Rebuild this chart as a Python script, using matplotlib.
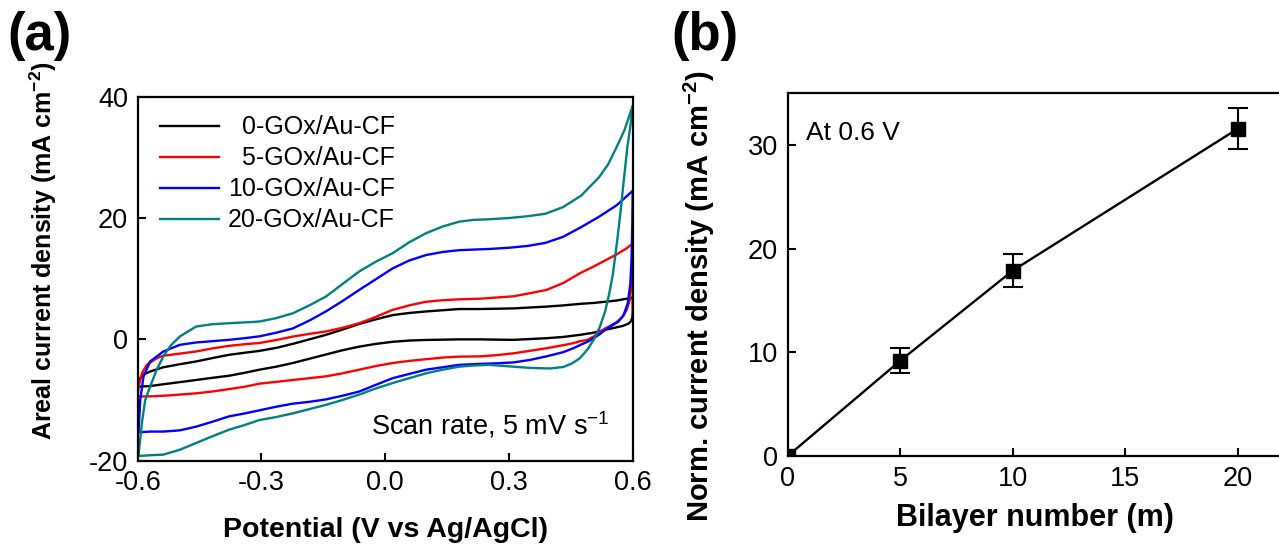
import numpy as np
import matplotlib.pyplot as plt

plt.rcParams['font.family'] = ['Liberation Sans', 'DejaVu Sans']
plt.rcParams['mathtext.default'] = 'regular'
plt.rcParams['axes.unicode_minus'] = False

# --- (a) cyclic voltammograms, forward (upper) and reverse (lower) sweeps ---
labels = ['  0-GOx/Au-CF', '  5-GOx/Au-CF', '10-GOx/Au-CF', '20-GOx/Au-CF']
colors = ['black', '#ff0000', '#0000ff', '#008080']

v_fwd_0 = [-0.600, -0.598, -0.593, -0.586, -0.570, -0.538, -0.498, -0.459, -0.420, -0.379, -0.340,
           -0.305, -0.264, -0.224, -0.184, -0.144, -0.104, -0.063, -0.023, 0.018, 0.058, 0.099,
           0.139, 0.179, 0.230, 0.270, 0.311, 0.350, 0.391, 0.432, 0.472, 0.505, 0.533, 0.561,
           0.585, 0.600]
j_fwd_0 = [-7.8, -7.2, -6.3, -5.8, -5.3, -4.6, -4.1, -3.65, -3.1, -2.55, -2.2,
           -1.9, -1.4, -0.74, 0.0, 0.74, 1.6, 2.55, 3.3, 4.0, 4.35, 4.6,
           4.8, 5.0, 5.0, 5.05, 5.1, 5.25, 5.4, 5.6, 5.85, 6.0, 6.2, 6.4,
           6.7, 6.9]
v_rev_0 = [0.600, 0.600, 0.599, 0.596, 0.590, 0.575, 0.555, 0.533, 0.505, 0.472, 0.432, 0.391,
           0.350, 0.311, 0.270, 0.230, 0.179, 0.139, 0.099, 0.058, 0.018, -0.023, -0.063, -0.104,
           -0.144, -0.184, -0.224, -0.264, -0.305, -0.340, -0.379, -0.420, -0.459, -0.498, -0.538,
           -0.570, -0.600]
j_rev_0 = [6.9, 4.5, 3.6, 3.0, 2.6, 2.2, 1.9, 1.56, 1.1, 0.74, 0.4, 0.19,
           0.05, -0.08, -0.05, 0.0, 0.0, -0.05, -0.1, -0.2, -0.4, -0.75, -1.2, -1.8,
           -2.5, -3.2, -3.9, -4.5, -5.0, -5.5, -6.0, -6.35, -6.7, -7.05, -7.4,
           -7.7, -7.8]

v_fwd_5 = [-0.600, -0.598, -0.590, -0.578, -0.554, -0.538, -0.498, -0.459, -0.420, -0.379, -0.340,
           -0.305, -0.264, -0.224, -0.184, -0.144, -0.104, -0.063, -0.023, 0.018, 0.058, 0.099,
           0.139, 0.179, 0.230, 0.270, 0.311, 0.350, 0.391, 0.432, 0.472, 0.505, 0.533, 0.561,
           0.585, 0.600]
j_fwd_5 = [-9.4, -7.8, -5.6, -4.2, -3.1, -2.7, -2.35, -2.0, -1.5, -1.07, -0.8,
           -0.6, -0.1, 0.46, 0.9, 1.3, 1.9, 2.66, 3.7, 4.86, 5.6, 6.2,
           6.45, 6.6, 6.7, 6.9, 7.1, 7.6, 8.15, 9.3, 10.9, 12.0, 13.0, 14.0,
           15.0, 15.8]
v_rev_5 = [0.600, 0.599, 0.597, 0.593, 0.585, 0.575, 0.560, 0.545, 0.533, 0.520, 0.505, 0.490,
           0.472, 0.456, 0.432, 0.391, 0.350, 0.311, 0.270, 0.230, 0.179, 0.139, 0.099, 0.058,
           0.018, -0.023, -0.063, -0.104, -0.144, -0.184, -0.224, -0.264, -0.305, -0.340, -0.379,
           -0.420, -0.459, -0.498, -0.538, -0.570, -0.600]
j_rev_5 = [15.8, 12.0, 9.0, 6.5, 4.8, 3.7, 2.8, 2.2, 1.8, 1.2, 0.47, -0.1,
           -0.3, -0.63, -0.95, -1.46, -1.9, -2.3, -2.6, -2.8, -2.85, -3.0, -3.27, -3.55,
           -3.9, -4.4, -5.0, -5.6, -6.1, -6.4, -6.7, -7.0, -7.3, -7.8, -8.2,
           -8.6, -8.9, -9.1, -9.3, -9.4, -9.4]

v_fwd_10 = [-0.600, -0.598, -0.594, -0.586, -0.570, -0.538, -0.498, -0.459, -0.420, -0.379, -0.340,
            -0.305, -0.264, -0.224, -0.184, -0.144, -0.104, -0.063, -0.023, 0.018, 0.058, 0.099,
            0.139, 0.179, 0.215, 0.252, 0.300, 0.345, 0.388, 0.431, 0.475, 0.518, 0.561, 0.600]
j_fwd_10 = [-15.3, -15.0, -10.0, -6.1, -3.65, -2.0, -0.9, -0.52, -0.3, -0.08, 0.2,
            0.5, 1.1, 1.8, 3.1, 4.6, 6.3, 8.15, 9.9, 11.7, 13.0, 13.9,
            14.4, 14.7, 14.8, 14.9, 15.1, 15.4, 15.9, 16.9, 18.5, 20.2, 22.1, 24.5]
v_rev_10 = [0.600, 0.599, 0.597, 0.594, 0.588, 0.578, 0.565, 0.550, 0.533, 0.520, 0.505, 0.490,
            0.472, 0.456, 0.432, 0.391, 0.350, 0.311, 0.270, 0.230, 0.179, 0.139, 0.099, 0.058,
            0.018, -0.023, -0.063, -0.104, -0.144, -0.184, -0.224, -0.264, -0.305, -0.340, -0.379,
            -0.420, -0.459, -0.498, -0.538, -0.570, -0.590, -0.600]
j_rev_10 = [24.5, 19.0, 13.0, 9.0, 6.0, 4.0, 2.9, 2.3, 1.56, 0.85, 0.19, -0.4,
            -0.95, -1.46, -2.1, -2.8, -3.4, -3.8, -3.95, -4.04, -4.2, -4.6, -5.0, -5.7,
            -6.4, -7.5, -8.6, -9.3, -9.9, -10.3, -10.6, -11.1, -11.7, -12.2, -12.7,
            -13.6, -14.4, -15.0, -15.2, -15.2, -15.3, -15.3]

v_fwd_20 = [-0.600, -0.598, -0.590, -0.582, -0.570, -0.554, -0.538, -0.520, -0.498, -0.459, -0.420,
            -0.379, -0.340, -0.305, -0.264, -0.224, -0.184, -0.144, -0.104, -0.063, -0.023, 0.018,
            0.058, 0.099, 0.139, 0.179, 0.215, 0.252, 0.300, 0.345, 0.388, 0.431, 0.475, 0.518,
            0.540, 0.561, 0.580, 0.596, 0.600]
j_fwd_20 = [-19.2, -19.0, -13.8, -10.0, -7.8, -5.0, -2.8, -1.0, 0.47, 2.1, 2.5,
            2.66, 2.8, 2.94, 3.5, 4.3, 5.6, 7.05, 9.1, 11.2, 12.8, 14.2,
            16.0, 17.5, 18.6, 19.4, 19.7, 19.8, 20.0, 20.3, 20.7, 21.8, 23.7, 26.7,
            28.8, 31.7, 34.5, 37.7, 38.5]
v_rev_20 = [0.600, 0.595, 0.587, 0.578, 0.570, 0.560, 0.552, 0.543, 0.533, 0.520, 0.505, 0.490,
            0.472, 0.452, 0.432, 0.400, 0.350, 0.300, 0.252, 0.215, 0.179, 0.139, 0.099, 0.058,
            0.018, -0.023, -0.063, -0.104, -0.144, -0.184, -0.224, -0.264, -0.305, -0.340, -0.379,
            -0.420, -0.459, -0.498, -0.538, -0.570, -0.590, -0.600]
j_rev_20 = [38.5, 35.5, 31.7, 26.0, 20.7, 15.0, 10.8, 7.5, 4.6, 2.0, -0.1, -1.7,
            -3.1, -4.0, -4.55, -4.8, -4.7, -4.45, -4.2, -4.3, -4.5, -5.0, -5.6, -6.4,
            -7.2, -8.1, -9.1, -10.0, -10.8, -11.5, -12.2, -12.8, -13.3, -14.1, -14.9,
            -16.0, -17.1, -18.2, -19.0, -19.1, -19.2, -19.2]

cv_fwd = [(v_fwd_0, j_fwd_0), (v_fwd_5, j_fwd_5), (v_fwd_10, j_fwd_10), (v_fwd_20, j_fwd_20)]
cv_rev = [(v_rev_0, j_rev_0), (v_rev_5, j_rev_5), (v_rev_10, j_rev_10), (v_rev_20, j_rev_20)]

# --- (b) current density at 0.6 V vs bilayer number ---
bilayers = [0, 5, 10, 20]
norm_current = [0.0, 9.2, 17.9, 31.6]
norm_err = [0.0, 1.2, 1.6, 2.0]

fig = plt.figure(figsize=(12.79, 5.47), dpi=100)
ax1 = fig.add_axes([0.1077, 0.1578, 0.387, 0.6654])
ax2 = fig.add_axes([0.6159, 0.1664, 0.3873, 0.663])

for (vf, jf), (vr, jr), c, lab in zip(cv_fwd, cv_rev, colors, labels):
    v = list(vf) + list(vr)
    j = list(jf) + list(jr)
    ax1.plot(v, j, color=c, lw=1.7, label=lab)

ax1.set_xlim(-0.6, 0.6)
ax1.set_ylim(-20, 40)
ax1.set_xticks([-0.6, -0.3, 0.0, 0.3, 0.6])
ax1.set_xticklabels(['-0.6', '-0.3', '0.0', '0.3', '0.6'])
ax1.set_yticks([-20, 0, 20, 40])
ax1.set_xlabel('Potential (V vs Ag/AgCl)', fontsize=20.5, fontweight='bold', va='top')
ax1.set_ylabel('Areal current density (mA cm$^{-2}$)', fontsize=18, fontweight='bold')
ax1.xaxis.set_label_coords(0.5, -0.155)
ax1.yaxis.set_label_coords(-0.159, 0.576)
ax1.text(0.544, -14.1, 'Scan rate, 5 mV s$^{-1}$', fontsize=19.5, ha='right', va='center')
ax1.legend(loc='upper left', bbox_to_anchor=(0.015, 0.99), frameon=False, fontsize=18,
           handlelength=2.35, handletextpad=0.35, labelspacing=0.28, borderaxespad=0.2)

ax2.errorbar(bilayers, norm_current, yerr=norm_err, color='black', lw=1.7, marker='s', ms=10,
             capsize=7, elinewidth=1.5, capthick=1.5)
ax2.set_xlim(0, 22)
ax2.set_ylim(0, 35)
ax2.set_xticks([0, 5, 10, 15, 20])
ax2.set_yticks([0, 10, 20, 30])
ax2.set_xlabel('Bilayer number (m)', fontsize=22, fontweight='bold', va='top')
ax2.set_ylabel('Norm. current density (mA cm$^{-2}$)', fontsize=21, fontweight='bold')
ax2.xaxis.set_label_coords(0.5, -0.13)
ax2.yaxis.set_label_coords(-0.143, 0.441)
ax2.text(0.8, 31.2, 'At 0.6 V', fontsize=19, ha='left', va='center')

for ax in (ax1, ax2):
    ax.tick_params(direction='in', length=6, width=1.5, labelsize=19.5, pad=7)
    for s in ax.spines.values():
        s.set_linewidth(1.6)

fig.text(0.006, 0.98, '(a)', fontsize=38, fontweight='bold', va='top')
fig.text(0.525, 0.98, '(b)', fontsize=38, fontweight='bold', va='top')

fig.savefig('out.png', dpi=100)
